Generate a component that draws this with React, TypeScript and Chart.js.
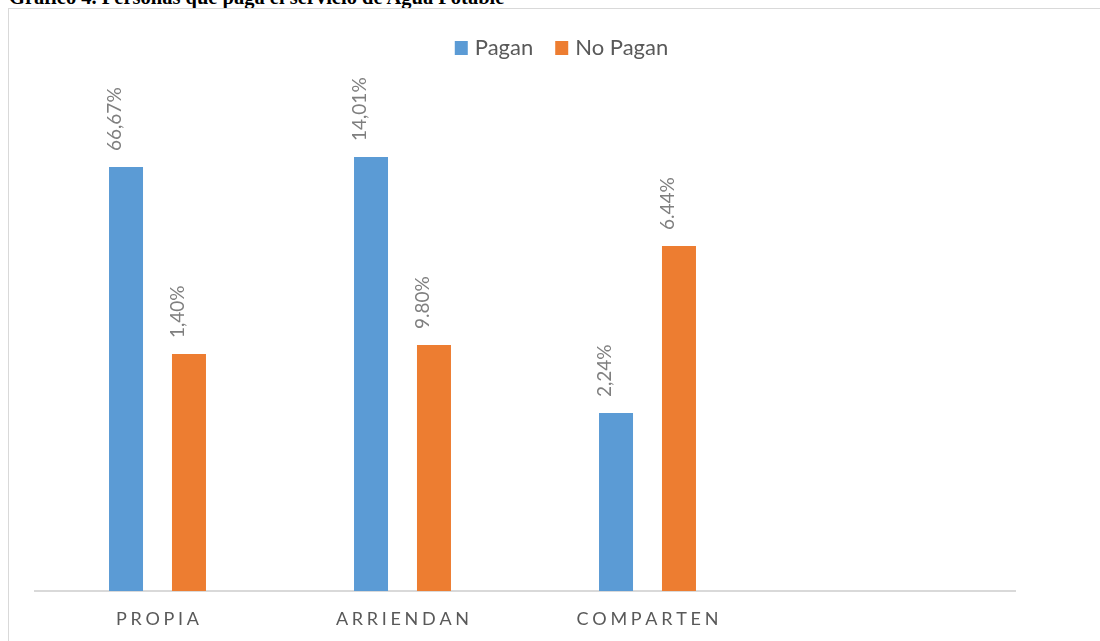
import React, { useEffect, useRef } from "react";
import { Chart, registerables } from "chart.js";

Chart.register(...registerables);

const TITLE = "Gráfico 4. Personas que paga el servicio de Agua Potable";
const categories = ["PROPIA", "ARRIENDAN", "COMPARTEN", ""];
const seriesNames = ["Pagan", "No Pagan"];
const paganValues = [84.8, 86.8, 35.6, null];
const noPaganValues = [47.4, 49.2, 69.0, null];
const paganLabels = ["66,67%", "14,01%", "2,24%"];
const noPaganLabels = ["1,40%", "9.80%", "6.44%"];
const seriesColors = ["#5b9bd5", "#ed7d31"];

const FONT = "Lato, 'Open Sans', sans-serif";

const customDraw = {
  id: "customDraw",
  afterDatasetsDraw(chart: any) {
    const ctx = chart.ctx;
    const allLabels = [paganLabels, noPaganLabels];
    ctx.save();
    ctx.font = `19px ${FONT}`;
    ctx.fillStyle = "#7f7f7f";
    ctx.textAlign = "left";
    ctx.textBaseline = "middle";
    chart.data.datasets.forEach((ds: any, di: number) => {
      const meta = chart.getDatasetMeta(di);
      meta.data.forEach((bar: any, i: number) => {
        const lab = allLabels[di][i];
        if (lab == null || ds.data[i] == null) return;
        ctx.save();
        ctx.translate(bar.x - 11, bar.y - 16);
        ctx.rotate(-Math.PI / 2);
        ctx.fillText(lab, 0, 0);
        ctx.restore();
      });
    });
    ctx.restore();
  },
  afterDraw(chart: any) {
    const ctx = chart.ctx;
    const xs = chart.scales.x;
    const area = chart.chartArea;
    ctx.save();
    // category labels with letter spacing
    ctx.font = `18px ${FONT}`;
    ctx.fillStyle = "#595959";
    ctx.textAlign = "left";
    ctx.textBaseline = "alphabetic";
    const spacing = 3.7;
    categories.forEach((c, i) => {
      if (!c) return;
      const chars = c.split("");
      const widths = chars.map((ch) => ctx.measureText(ch).width);
      const total = widths.reduce((a, b) => a + b, 0) + spacing * (chars.length - 1);
      let x = xs.getPixelForTick(i) - total / 2;
      chars.forEach((ch, k) => {
        ctx.fillText(ch, x, area.bottom + 34);
        x += widths[k] + spacing;
      });
    });
    // legend
    ctx.font = `22px ${FONT}`;
    const sw = 13;
    const gapSwText = 7;
    const gapItems = 22;
    const items = chart.data.datasets.map((ds: any) => ({
      label: ds.label,
      color: ds.backgroundColor,
      w: ctx.measureText(ds.label).width,
    }));
    let totalW = 0;
    items.forEach((it: any, k: number) => {
      totalW += sw + gapSwText + it.w + (k < items.length - 1 ? gapItems : 0);
    });
    let lx = chart.width / 2 + 7 - totalW / 2;
    const baseY = 46;
    items.forEach((it: any) => {
      ctx.fillStyle = it.color;
      ctx.fillRect(lx, baseY - 14, sw, 14);
      lx += sw + gapSwText;
      ctx.fillStyle = "#595959";
      ctx.fillText(it.label, lx, baseY);
      lx += it.w + gapItems;
    });
    ctx.restore();
  },
};

export default function App() {
  const ref = useRef<HTMLCanvasElement | null>(null);
  useEffect(() => {
    if (!ref.current) return;
    const chart = new Chart(ref.current, {
      type: "bar",
      data: {
        labels: categories,
        datasets: [
          {
            label: seriesNames[0],
            data: paganValues,
            backgroundColor: seriesColors[0],
            categoryPercentage: 0.514,
            barPercentage: 0.54,
          },
          {
            label: seriesNames[1],
            data: noPaganValues,
            backgroundColor: seriesColors[1],
            categoryPercentage: 0.514,
            barPercentage: 0.54,
          },
        ],
      },
      options: {
        responsive: false,
        animation: false,
        devicePixelRatio: 1,
        layout: { padding: { left: 26, right: 85, top: 82, bottom: 50 } },
        plugins: {
          legend: { display: false },
          tooltip: { enabled: false },
          title: { display: false },
        },
        scales: {
          x: {
            offset: true,
            grid: { display: false, drawTicks: false },
            ticks: { display: false },
            border: { display: true, color: "#d9d9d9", width: 2 },
          },
          y: {
            display: false,
            min: 0,
            max: 100,
          },
        },
      },
      plugins: [customDraw],
    });
    return () => chart.destroy();
  }, []);

  return (
    <div
      style={{
        position: "absolute",
        left: 0,
        top: 0,
        width: 1100,
        height: 641,
        overflow: "hidden",
        background: "#fff",
      }}
    >
      <div
        style={{
          position: "absolute",
          left: 9,
          top: -13,
          font: "bold 20.5px 'Liberation Serif', 'Times New Roman', serif",
          lineHeight: "20.5px",
          whiteSpace: "nowrap",
          color: "#000",
        }}
      >
        {TITLE}
      </div>
      <div
        style={{
          position: "absolute",
          left: 8,
          top: 8,
          width: 1092,
          height: 633,
          borderLeft: "1px solid #d9d9d9",
          borderTop: "1px solid #d9d9d9",
          boxSizing: "border-box",
        }}
      >
        <canvas ref={ref} width={1091} height={632} style={{ display: "block" }} />
      </div>
    </div>
  );
}
